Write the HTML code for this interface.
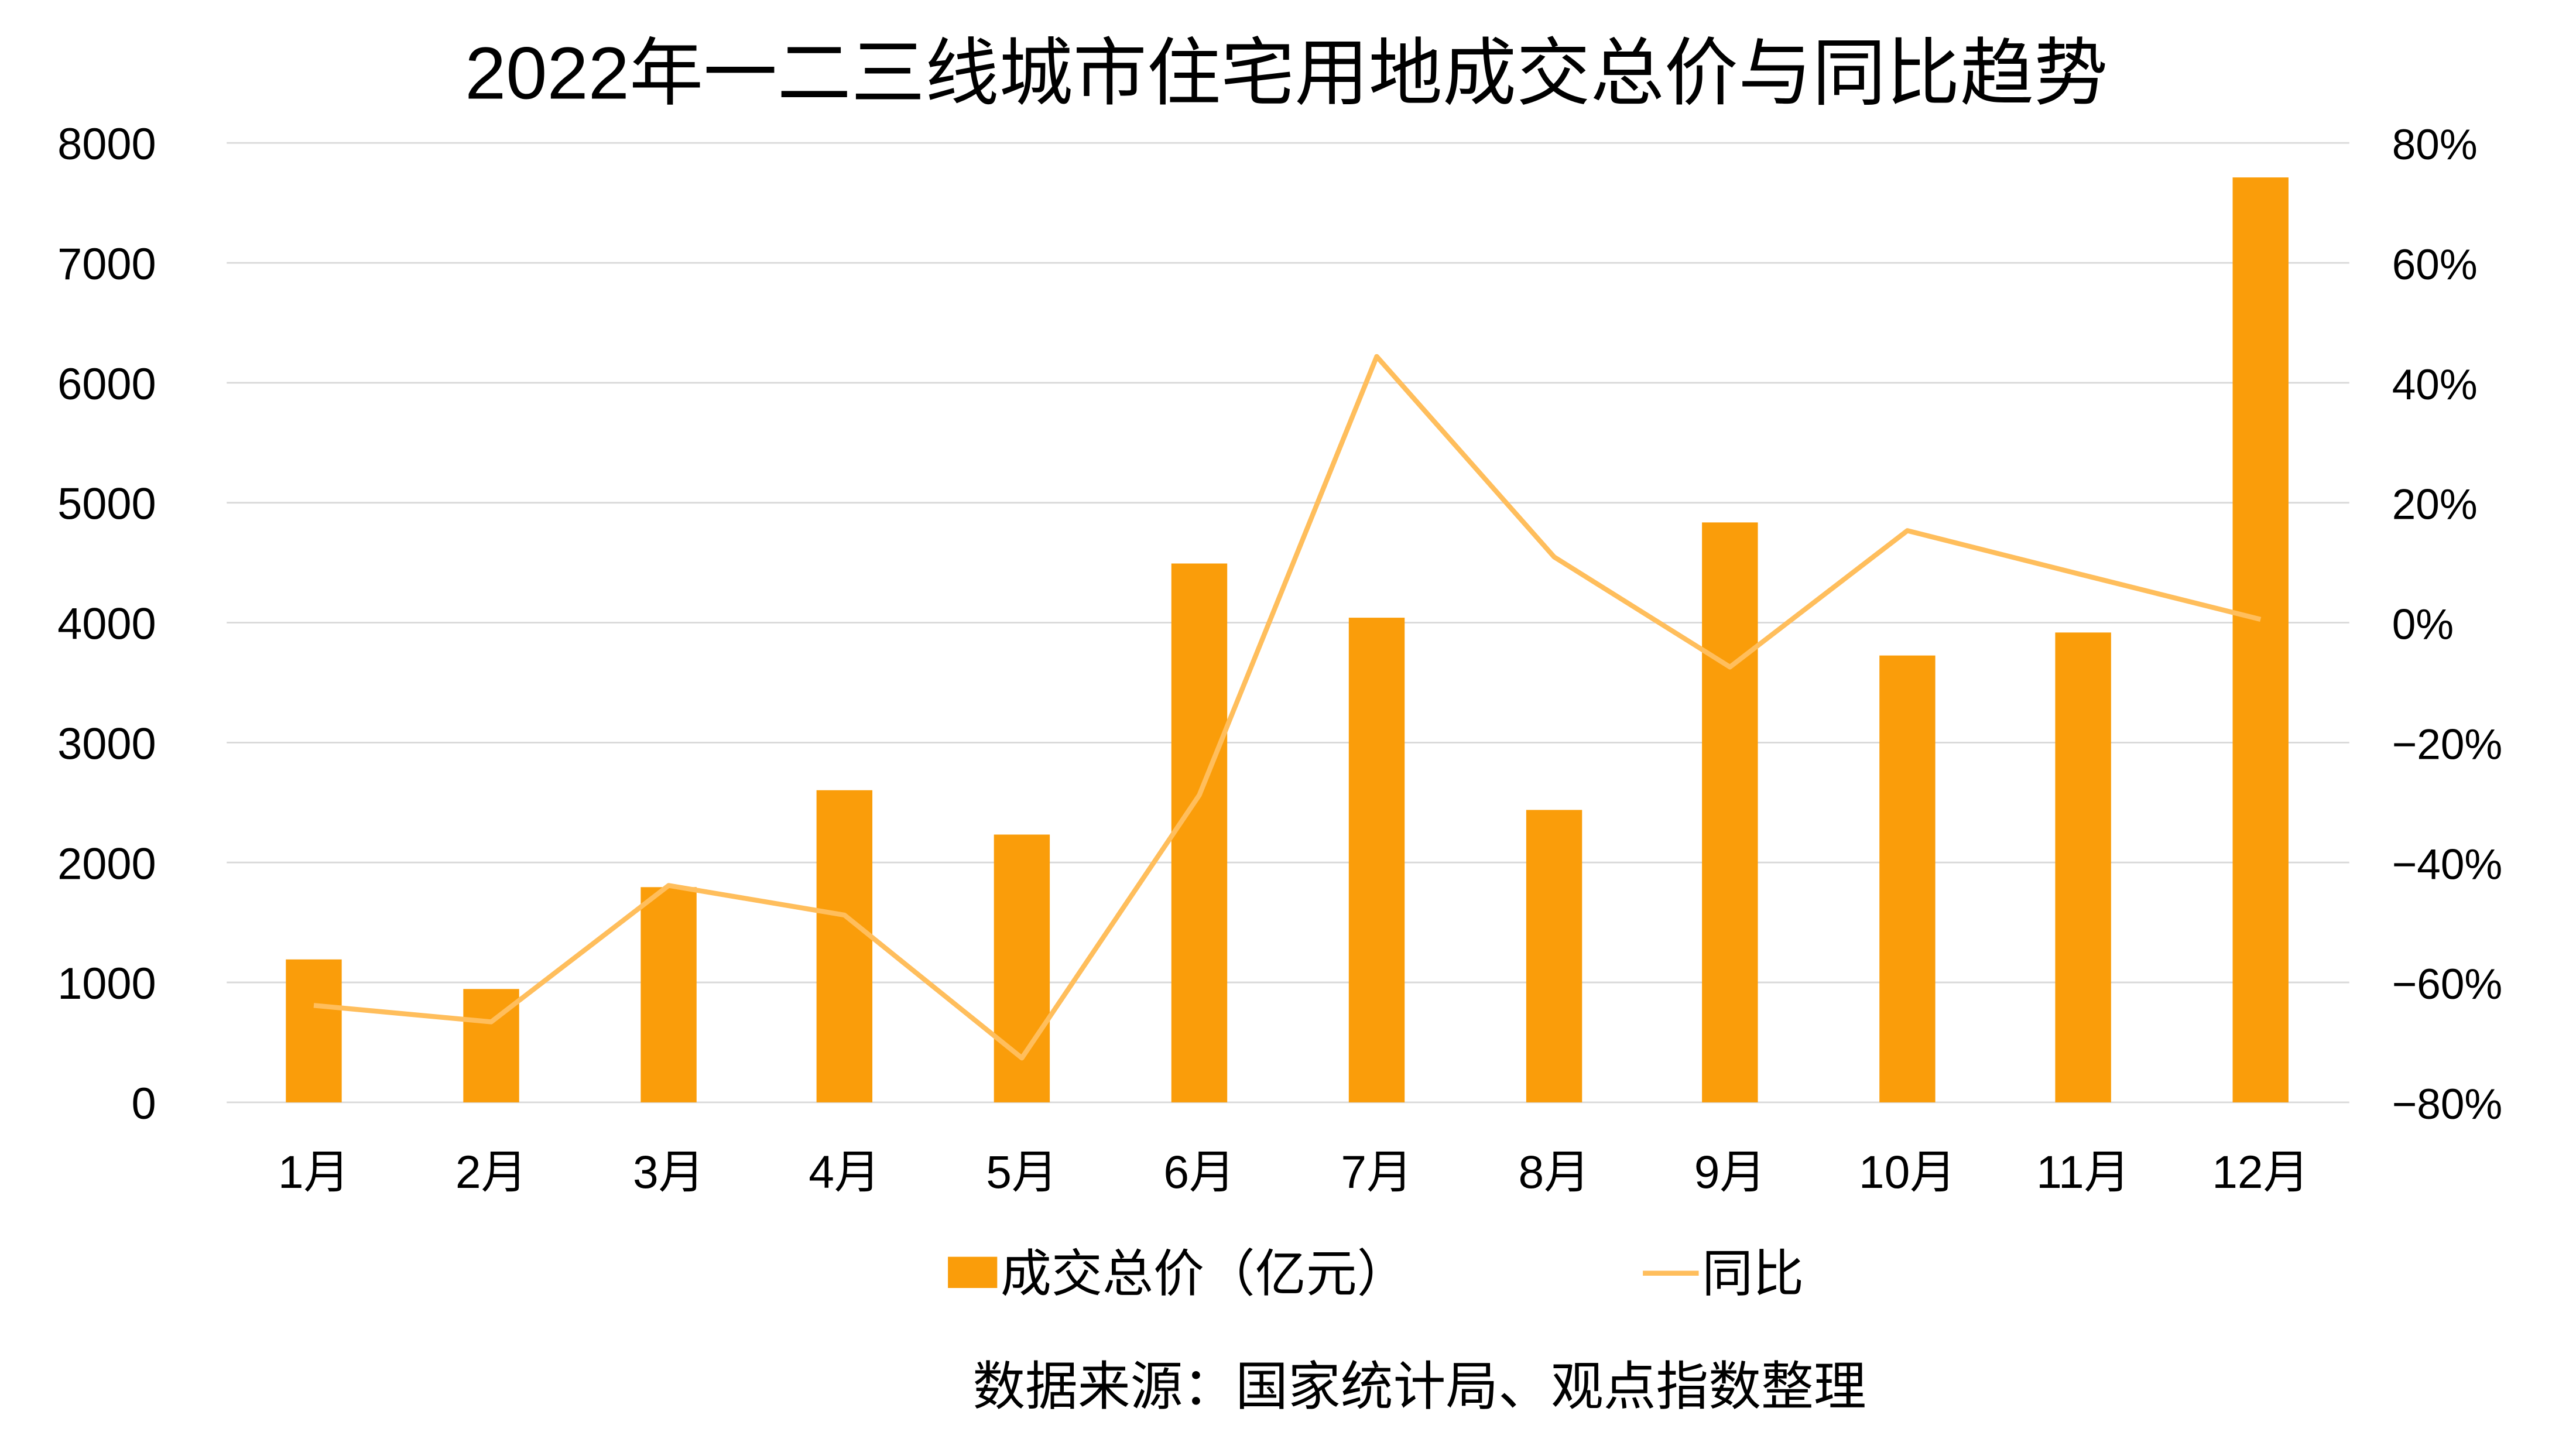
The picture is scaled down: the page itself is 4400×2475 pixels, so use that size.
<!DOCTYPE html>
<html><head><meta charset="utf-8"><style>html,body{margin:0;padding:0;background:#fff}svg{display:block}</style></head>
<body>
<svg width="4400" height="2475" viewBox="0 0 1568 882" preserveAspectRatio="none" xmlns="http://www.w3.org/2000/svg" font-family="'Liberation Sans','Noto Sans CJK SC',sans-serif">
<rect width="1568" height="882" fill="#fff"/>
<text x="783" y="60" text-anchor="middle" font-size="45" fill="#000">2022年一二三线城市住宅用地成交总价与同比趋势</text>
<g stroke="#d9d9d9" stroke-width="1">
<line x1="138" x2="1430" y1="87" y2="87"/><line x1="138" x2="1430" y1="160" y2="160"/>
<line x1="138" x2="1430" y1="233" y2="233"/><line x1="138" x2="1430" y1="306" y2="306"/>
<line x1="138" x2="1430" y1="379" y2="379"/><line x1="138" x2="1430" y1="452" y2="452"/>
<line x1="138" x2="1430" y1="525" y2="525"/><line x1="138" x2="1430" y1="598" y2="598"/>
<line x1="138" x2="1430" y1="671" y2="671"/>
</g>
<g font-size="27" fill="#000" text-anchor="end">
<text x="95" y="97">8000</text><text x="95" y="170">7000</text><text x="95" y="243">6000</text>
<text x="95" y="316">5000</text><text x="95" y="389">4000</text><text x="95" y="462">3000</text>
<text x="95" y="535">2000</text><text x="95" y="608">1000</text><text x="95" y="681">0</text>
</g>
<g font-size="26" fill="#000" text-anchor="start">
<text x="1456" y="97">80%</text><text x="1456" y="170">60%</text><text x="1456" y="243">40%</text>
<text x="1456" y="316">20%</text><text x="1456" y="389">0%</text><text x="1456" y="462">−20%</text>
<text x="1456" y="535">−40%</text><text x="1456" y="608">−60%</text><text x="1456" y="681">−80%</text>
</g>
<g fill="#FA9D0A">
<rect x="174" y="584" width="34" height="87"/><rect x="282" y="602" width="34" height="69"/>
<rect x="390" y="540" width="34" height="131"/><rect x="497" y="481" width="34" height="190"/>
<rect x="605" y="508" width="34" height="163"/><rect x="713" y="343" width="34" height="328"/>
<rect x="821" y="376" width="34" height="295"/><rect x="929" y="493" width="34" height="178"/>
<rect x="1036" y="318" width="34" height="353"/><rect x="1144" y="399" width="34" height="272"/>
<rect x="1251" y="385" width="34" height="286"/><rect x="1359" y="108" width="34" height="563"/>
</g>
<polyline fill="none" stroke="#FFBE5C" stroke-width="3" stroke-linejoin="round" points="191,612 299,622 407,539 514,557 622,644 730,484 838,217 946,339 1053,406 1161,323 1268,350 1376,377"/>
<g font-size="28" fill="#000" text-anchor="middle">
<text x="191" y="723">1月</text><text x="299" y="723">2月</text><text x="407" y="723">3月</text>
<text x="514" y="723">4月</text><text x="622" y="723">5月</text><text x="730" y="723">6月</text>
<text x="838" y="723">7月</text><text x="946" y="723">8月</text><text x="1053" y="723">9月</text>
<text x="1161" y="723">10月</text><text x="1268" y="723">11月</text><text x="1376" y="723">12月</text>
</g>
<rect x="577" y="765" width="30" height="19" fill="#FA9D0A"/>
<text x="609" y="786" font-size="31" fill="#000">成交总价（亿元）</text>
<line x1="1000" x2="1034" y1="775" y2="775" stroke="#FFBE5C" stroke-width="3"/>
<text x="1036" y="786" font-size="31" fill="#000">同比</text>
<text x="864" y="855" text-anchor="middle" font-size="32" fill="#000">数据来源：国家统计局、观点指数整理</text>
</svg>
</body></html>
